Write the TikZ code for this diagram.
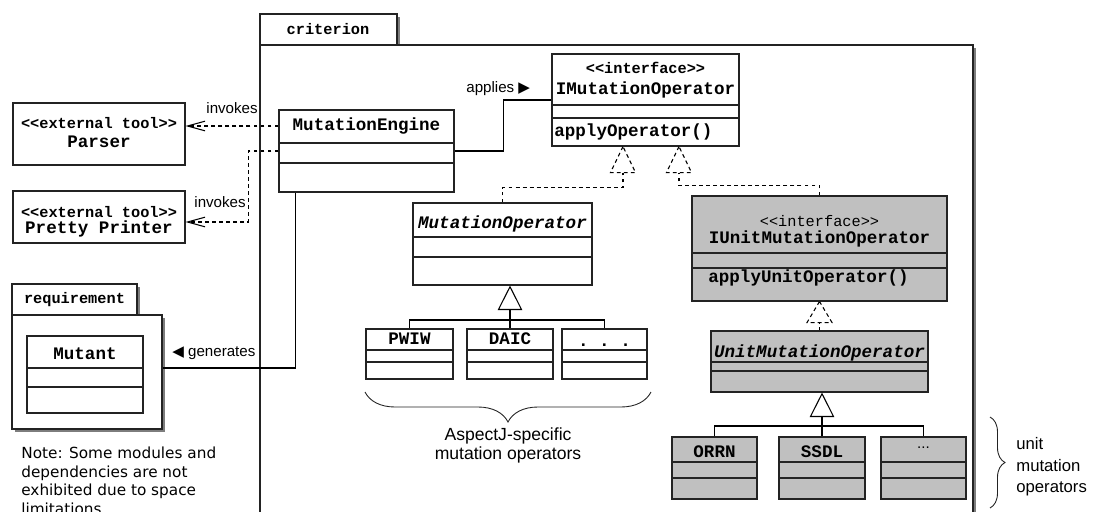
\documentclass[tikz,border=0pt]{standalone}
\usepackage{fontspec}
\setmainfont{Liberation Sans}
\setmonofont{Liberation Mono}
\newfontfamily\notefont{DejaVu Sans}
\newfontfamily\symfont{DejaVu Sans}
\usetikzlibrary{arrows.meta,positioning,fit,decorations.pathreplacing}

\definecolor{unitfill}{RGB}{192,192,192}
\definecolor{shade}{RGB}{125,125,125}
\definecolor{edge}{RGB}{35,35,35}

\begin{document}
\begin{tikzpicture}[x=0.02cm, y=-0.02cm,
    box/.style={draw=edge, line width=0.6pt, inner sep=0pt, fill=white},
    unitbox/.style={box, fill=unitfill},
    pkgshade/.style={fill=shade, draw=none},
    cname/.style={font=\fontsize{10}{12}\selectfont\ttfamily\bfseries, inner sep=0pt, anchor=base},
    aname/.style={cname, font=\fontsize{10}{12}\selectfont\ttfamily\bfseries\itshape},
    stereo/.style={font=\fontsize{8.7}{10}\selectfont\ttfamily\bfseries, inner sep=0pt, anchor=base},
    lbl/.style={font=\fontsize{8.6}{10}\selectfont, inner sep=0pt},
    divider/.style={draw=edge, line width=0.6pt},
    dep/.style={draw, line width=0.6pt, dash pattern=on 2.2pt off 1.8pt},
    assoc/.style={draw, line width=0.6pt},
    genline/.style={assoc, -{Triangle[open, length=0.49cm, width=0.49cm]}},
    invoke/.style={dep, -{Straight Barb[length=10pt, width=5.5pt]}},
    grpbrace/.style={draw=edge, line width=0.5pt, decorate, decoration={brace, amplitude=#1}}
]

\fill[white] (0,0) rectangle (1093,511);
\useasboundingbox (0,0) rectangle (1093,511);

% criterion package
\fill[pkgshade] (263,17) rectangle (399.5,45);
\fill[pkgshade] (263,48) rectangle (976,530);
\node[box, fit={(260,14) (397,45)}] (tabcrit) {};
\node[box, fit={(260,45) (973,530)}] (pkgcrit) {};
\node[stereo] (critname) at (328,34) {criterion};

% requirement package
\fill[pkgshade] (15,287) rectangle (139.5,315);
\fill[pkgshade] (15,318) rectangle (165,432);
\node[box, fit={(12,284) (137,315)}] (tabreq) {};
\node[box, fit={(12,315) (162,429)}] (pkgreq) {};
\node[stereo] (reqname) at (74.5,303) {requirement};

% external tools
\node[box, fit={(13,103) (185,165)}] (parser) {};
\node[stereo] (parserst) at (99,128) {<<external tool>>};
\node[cname] (parsername) at (99,147) {Parser};
\node[box, fit={(13,191) (185,243)}] (printer) {};
\node[stereo] (printerst) at (99,217) {<<external tool>>};
\node[cname] (printername) at (99,233) {Pretty Printer};

% Mutant
\node[box, fit={(27,336) (143,413)}] (mutant) {};
\node[cname] (mutantname) at (85,359) {Mutant};
\draw[divider] (mutant.west |- 0,368) -- (mutant.east |- 0,368);
\draw[divider] (mutant.west |- 0,387) -- (mutant.east |- 0,387);

% MutationEngine
\node[box, fit={(279,110) (454,192)}] (engine) {};
\node[cname] (enginename) at (366.5,130) {MutationEngine};
\draw[divider] (engine.west |- 0,143) -- (engine.east |- 0,143);
\draw[divider] (engine.west |- 0,163) -- (engine.east |- 0,163);

% IMutationOperator
\node[box, fit={(552,54) (739,146)}] (imutop) {};
\node[stereo] (imutopst) at (645.5,73) {<<interface>>};
\node[cname] (imutopname) at (645.5,94) {IMutationOperator};
\node[cname, anchor=base west] (imutopop) at (554,136) {applyOperator()};
\draw[divider] (imutop.west |- 0,105) -- (imutop.east |- 0,105);
\draw[divider] (imutop.west |- 0,118) -- (imutop.east |- 0,118);

% MutationOperator and its operators
\node[box, fit={(413,203) (592,285)}] (mutop) {};
\node[aname] (mutopname) at (502.5,228) {MutationOperator};
\draw[divider] (mutop.west |- 0,237) -- (mutop.east |- 0,237);
\draw[divider] (mutop.west |- 0,257) -- (mutop.east |- 0,257);

\node[box, fit={(366,329) (453,379)}] (pwiw) {};
\node[cname] (pwiwname) at (409.5,344) {PWIW};
\draw[divider] (pwiw.west |- 0,350) -- (pwiw.east |- 0,350);
\draw[divider] (pwiw.west |- 0,362) -- (pwiw.east |- 0,362);
\node[box, fit={(467,329) (553,379)}] (daic) {};
\node[cname] (daicname) at (510,344) {DAIC};
\draw[divider] (daic.west |- 0,350) -- (daic.east |- 0,350);
\draw[divider] (daic.west |- 0,362) -- (daic.east |- 0,362);
\node[box, fit={(562,329) (647,379)}] (mutdots) {};
\node[cname] (mutdotsname) at (604.5,346) {. . .};
\draw[divider] (mutdots.west |- 0,350) -- (mutdots.east |- 0,350);
\draw[divider] (mutdots.west |- 0,362) -- (mutdots.east |- 0,362);

% IUnitMutationOperator
\node[unitbox, fit={(692,196) (947,301)}] (iunitop) {};
\node[stereo, font=\fontsize{8.7}{10}\selectfont\ttfamily] (iunitopst) at (819.5,226) {<<interface>>};
\node[cname] (iunitopname) at (819.5,243) {IUnitMutationOperator};
\node[cname, anchor=base west] (iunitopop) at (708,282) {applyUnitOperator()};
\draw[divider] (iunitop.west |- 0,253) -- (iunitop.east |- 0,253);
\draw[divider] (iunitop.west |- 0,268) -- (iunitop.east |- 0,268);

% UnitMutationOperator and its operators
\node[unitbox, fit={(711,331) (928,392)}] (unitop) {};
\node[aname] (unitopname) at (819.5,357) {UnitMutationOperator};
\draw[divider] (unitop.west |- 0,362) -- (unitop.east |- 0,362);
\draw[divider] (unitop.west |- 0,371) -- (unitop.east |- 0,371);

\node[unitbox, fit={(672,437) (757,499)}] (orrn) {};
\node[cname] (orrnname) at (714.5,457) {ORRN};
\draw[divider] (orrn.west |- 0,462) -- (orrn.east |- 0,462);
\draw[divider] (orrn.west |- 0,478) -- (orrn.east |- 0,478);
\node[unitbox, fit={(779,437) (865,499)}] (ssdl) {};
\node[cname] (ssdlname) at (822,457) {SSDL};
\draw[divider] (ssdl.west |- 0,462) -- (ssdl.east |- 0,462);
\draw[divider] (ssdl.west |- 0,478) -- (ssdl.east |- 0,478);
\node[unitbox, fit={(881,437) (966,499)}] (unitdots) {};
\node[lbl, anchor=base] (unitdotsname) at (923.5,448) {...};
\draw[divider] (unitdots.west |- 0,462) -- (unitdots.east |- 0,462);
\draw[divider] (unitdots.west |- 0,478) -- (unitdots.east |- 0,478);

% invokes
\draw[invoke] (engine.west |- 0,126) -- (parser.east |- 0,126);
\node[lbl, anchor=base east] (invlbl1) at (258,113) {invokes};
\draw[invoke] (engine.west |- 0,151) -| ++(-30,71) -- (printer.east |- 0,222);
\node[lbl, anchor=base east] (invlbl2) at (246,207) {invokes};

% applies
\draw[assoc] (engine.east) -- ++(49,0) |- (imutop.west);
\node[lbl, anchor=base west] (applbl) at (466,92) {applies {\symfont ▶}};

% generates
\draw[assoc] (engine.south west) ++(17,0) |- (pkgreq.east |- 0,368);
\node[lbl, anchor=base west] (genlbl) at (172,356) {{\symfont ◀} generates};

% realizations
\coordinate (rtip1) at (imutop.south -| 623,0);
\coordinate (rtip2) at (imutop.south -| 679,0);
\coordinate (rtip3) at (iunitop.south -| unitop.north);
\draw[dep] (mutop.north) |- ([yshift=-0.82cm]rtip1) -- ([yshift=-0.52cm]rtip1);
\draw[dep, fill=white] (rtip1) -- ++(-12.5,26) -- ++(25,0) -- cycle;
\draw[dep] (iunitop.north) |- ([yshift=-0.78cm]rtip2) -- ([yshift=-0.52cm]rtip2);
\draw[dep, fill=white] (rtip2) -- ++(-12.5,26) -- ++(25,0) -- cycle;
\draw[dep] (unitop.north) -- ([yshift=-0.42cm]rtip3);
\draw[dep, fill=white] (rtip3) -- ++(-12.5,21) -- ++(25,0) -- cycle;

% generalizations
\coordinate (genmut) at (daic.north |- 0,320);
\draw[assoc] (pwiw.north) |- (genmut) -| (mutdots.north);
\draw[genline] (daic.north) -- (daic.north |- mutop.south);
\coordinate (genunit) at (ssdl.north |- 0,426);
\draw[assoc] (orrn.north) |- (genunit) -| (unitdots.north);
\draw[genline] (ssdl.north) -- (ssdl.north |- unitop.south);

% braces
\draw[grpbrace=0.6cm] (651,392) -- (365,392);
\node[lbl, font=\fontsize{10}{11.3}\selectfont, align=center, anchor=north] (aspectlbl) at (508,427) {AspectJ-specific\\mutation operators};
\draw[grpbrace=0.3cm] (990,417) -- (990,508);
\node[lbl, font=\fontsize{9.5}{12.3}\selectfont, align=left, anchor=north west] (unitlbl) at (1016,437) {unit\\mutation\\operators};

% note
\node[lbl, font=\notefont\fontsize{8.7}{10.5}\selectfont, align=left, anchor=north west] (note) at (21,447) {Note: Some modules and\\dependencies are not\\exhibited due to space\\limitations};

\end{tikzpicture}
\end{document}
